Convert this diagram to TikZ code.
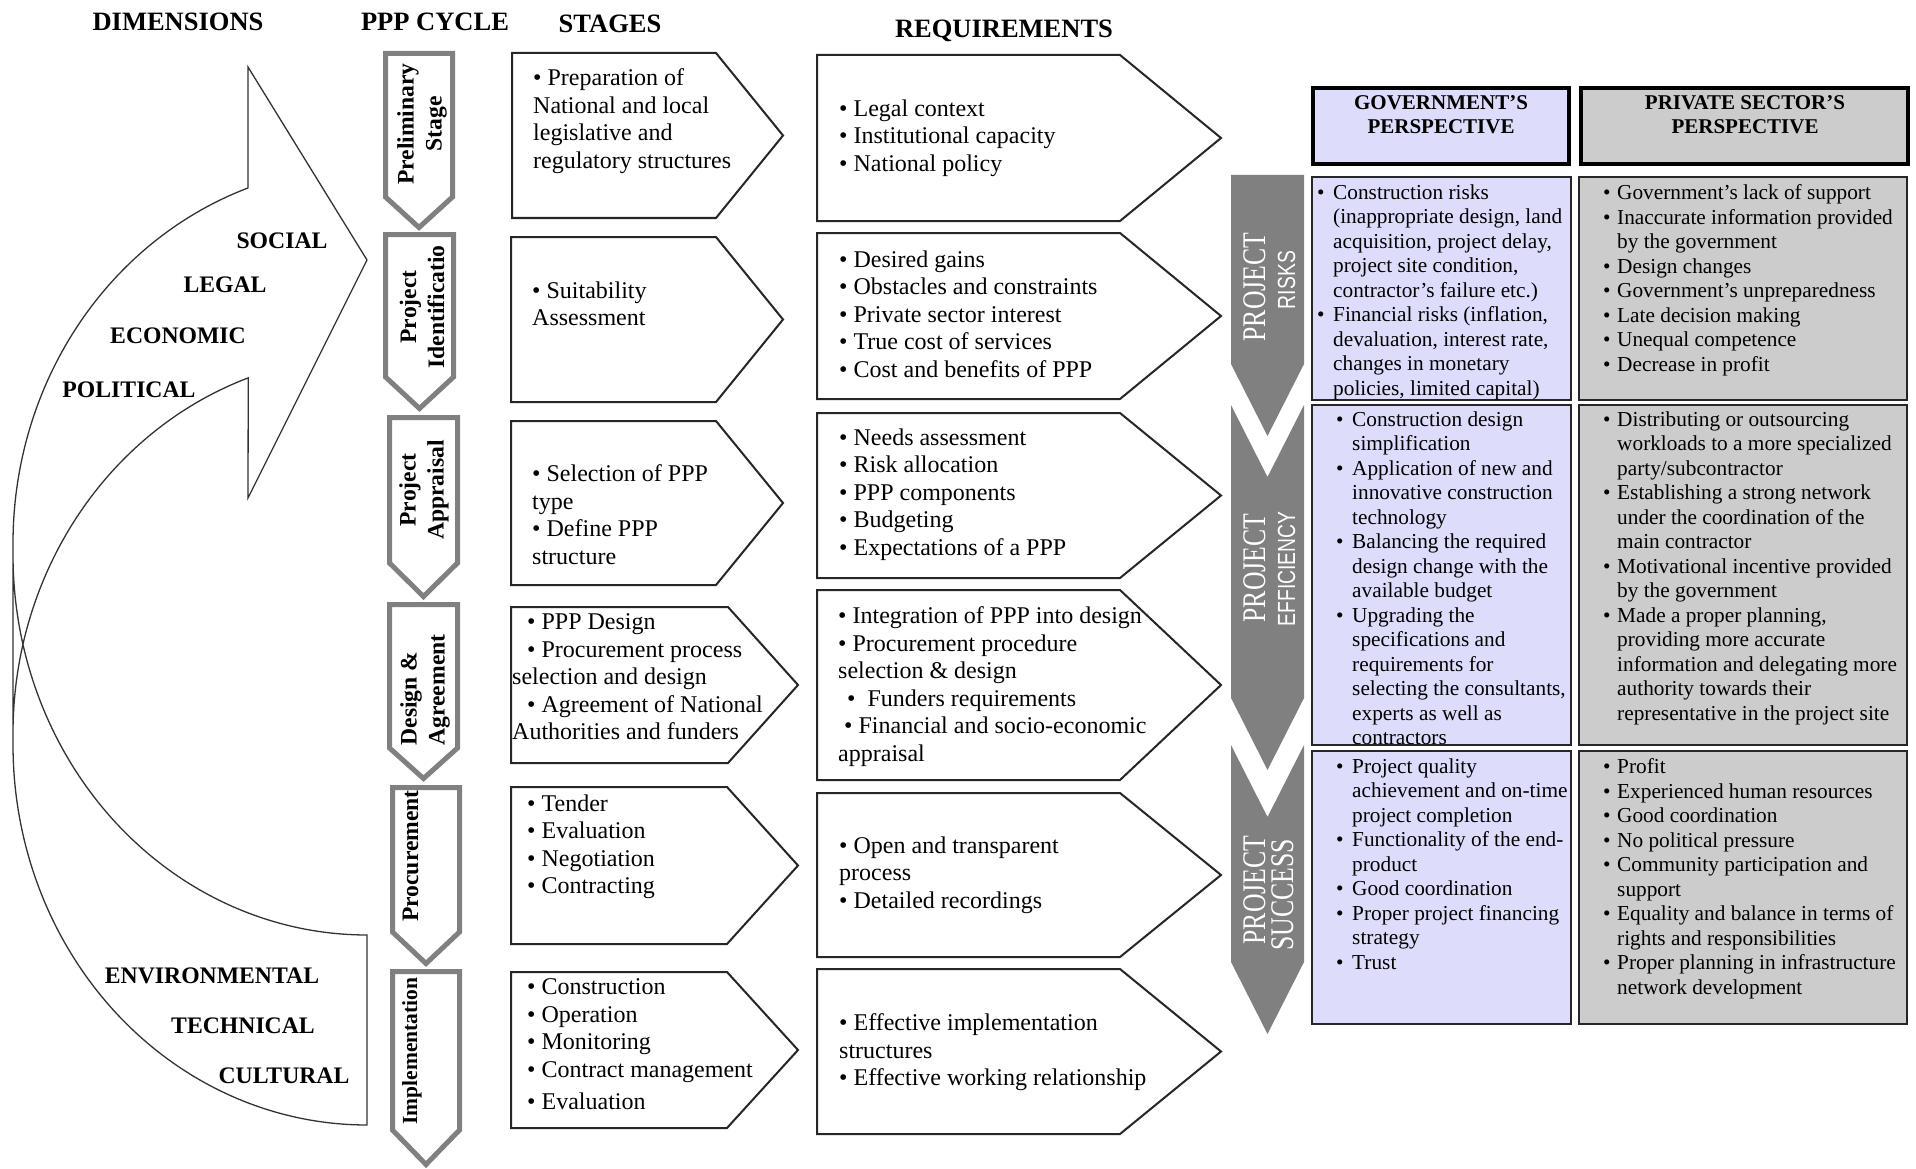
\documentclass[tikz,border=0pt]{standalone}
\usepackage{fontspec}
\setmainfont{Liberation Serif}
\newfontfamily\chevserif{Liberation Serif}[FakeStretch=0.78]
\newfontfamily\chevsans{Liberation Sans}[FakeStretch=0.78]
\definecolor{lav}{RGB}{221,221,251}
\definecolor{pgrey}{RGB}{204,204,204}
\definecolor{cgrey}{RGB}{128,128,128}
\definecolor{chev}{RGB}{128,128,128}
\newcommand{\govb}{\makebox[16pt][l]{•}}
\newcommand{\govc}{\hspace*{16pt}}
\newcommand{\prvb}{\makebox[14pt][l]{•}}
\newcommand{\prvc}{\hspace*{14pt}}
\newcommand{\pentbox}[5]{\draw[boxline] (#1,#2) -- (#3,#2) -- (#4,{(#2+#5)/2}) -- (#3,#5) -- (#1,#5) -- cycle;}
\newcommand{\cycbox}[5]{\draw[cycline] ({#1+2.5},{#2+2.5}) -- ({#3-2.5},{#2+2.5}) -- ({#3-2.5},#4) -- ({(#1+#3)/2},{#5-3.5}) -- ({#1+2.5},#4) -- cycle;}
\tikzset{
 boxline/.style={draw=black!85, line width=2pt, line join=miter, fill=white},
 cycline/.style={draw=cgrey, line width=5pt, line join=miter, fill=white},
 arrowline/.style={draw=black!80, line width=1.3pt, line join=miter},
 hdr/.style={font=\bfseries\fontsize{26.5}{30}\selectfont, inner sep=0, anchor=base},
 dimlab/.style={font=\bfseries\fontsize{23.7}{28}\selectfont, inner sep=0, anchor=base},
 cyc/.style={font=\bfseries\fontsize{23.6}{28}\selectfont, inner sep=0, rotate=90, align=center},
 txt/.style={font=\fontsize{24}{27.5}\selectfont, inner sep=0, anchor=north west, align=left},
 tbl/.style={font=\fontsize{21.3}{24.5}\selectfont, inner sep=0, anchor=north west, align=left},
 thdr/.style={font=\bfseries\fontsize{21}{24}\selectfont, inner sep=0, align=center},
 govrow/.style={draw=black!85, line width=2.2pt, fill=lav},
 privrow/.style={draw=black!85, line width=2.2pt, fill=pgrey},
 hdrbox/.style={draw=black, line width=4.5pt},
 chevfill/.style={fill=chev, draw=none},
 chevA/.style={font=\chevserif\fontsize{33}{36}\selectfont, text=white, rotate=90, inner sep=0, anchor=base},
 chevB/.style={font=\chevsans\fontsize{24.8}{28}\selectfont, text=white, rotate=90, inner sep=0, anchor=base},
}
\begin{document}
\begin{tikzpicture}[x=1pt,y=-1pt]
\useasboundingbox[fill=white] (0,0) rectangle (1916,1169);

% ---- headers
\node[hdr] (hdim) at (178,31) {DIMENSIONS};
\node[hdr] (hcyc) at (435,31) {PPP CYCLE};
\node[hdr] (hsta) at (610,33) {STAGES};
\node[hdr] (hreq) at (1004,38) {REQUIREMENTS};

% ---- curved dimensions arrow
\draw[arrowline]
  plot[domain=180:109.6, samples=70, variable=\t] ({367+354*cos(\t)},{733-377*sin(\t)})
  -- (248,498) -- (367,260) -- (248,67) -- (248,188)
  -- plot[domain=109.6:180, samples=70, variable=\t] ({367+354*cos(\t)},{543-377*sin(\t)})
  -- plot[domain=180:270, samples=90, variable=\t] ({367+354*cos(\t)},{745-380*sin(\t)})
  -- (367,935)
  -- plot[domain=270:180, samples=90, variable=\t] ({367+354*cos(\t)},{555-380*sin(\t)});

\node[dimlab] (dsoc) at (282,248) {SOCIAL};
\node[dimlab] (dleg) at (225,292) {LEGAL};
\node[dimlab] (deco) at (178,343) {ECONOMIC};
\node[dimlab] (dpol) at (129,397) {POLITICAL};
\node[dimlab] (denv) at (212,983) {ENVIRONMENTAL};
\node[dimlab] (dtec) at (243,1033) {TECHNICAL};
\node[dimlab] (dcul) at (284,1083) {CULTURAL};

% ---- PPP cycle chevrons
\cycbox{383}{51}{455}{197}{231}
\cycbox{383}{232}{456}{377}{412}
\cycbox{387}{415}{460}{563}{600}
\cycbox{387}{602}{460}{748}{782}
\cycbox{390}{785}{462}{932}{967}
\cycbox{390}{969}{462}{1130}{1168}
\node[cyc] (c1) at (422,124) {Preliminary\\Stage};
\node[cyc] (c2) at (422,307) {Project\\Identificatio};
\node[cyc] (c3) at (424,490) {Project\\Appraisal};
\node[cyc, align=left] (c4) at (425,690) {Design \&\\Agreement};
\node[cyc, anchor=base] (c5) at (418,856) {Procurement};
\node[cyc, anchor=base, font=\bfseries\fontsize{21.5}{26}\selectfont] (c6) at (417,1051) {Implementation};

% ---- stages
\pentbox{512}{53}{716}{783}{218}
\pentbox{511}{237}{716}{783}{402}
\pentbox{511}{421}{716}{783}{585}
\pentbox{511}{607}{728}{798}{763}
\pentbox{511}{787}{727}{798}{944}
\pentbox{511}{972}{727}{798}{1128}
\node[txt] (st1) at (533,68.6) {• Preparation of\\National and local\\legislative and\\regulatory structures};
\node[txt] (st2) at (532,281.6) {• Suitability\\Assessment};
\node[txt] (st3) at (532,464.6) {• Selection of PPP\\type\\• Define PPP\\structure};
\node[txt] (st4) at (512,613.6) {\hspace*{15pt}• PPP Design\\\hspace*{15pt}• Procurement process\\selection and design\\\hspace*{15pt}• Agreement of National\\Authorities and funders};
\node[txt] (st5) at (527,794.6) {• Tender\\• Evaluation\\• Negotiation\\• Contracting};
\node[txt] (st6) at (527,978.6) {• Construction\\• Operation\\• Monitoring\\• Contract management\\[4.5pt]• Evaluation};

% ---- requirements
\pentbox{817}{55}{1120}{1221}{221}
\pentbox{817}{233}{1120}{1221}{399}
\pentbox{817}{413}{1120}{1221}{578}
\pentbox{817}{590}{1120}{1221}{780}
\pentbox{817}{793}{1120}{1221}{957}
\pentbox{817}{969}{1120}{1221}{1134}
\node[txt] (rq1) at (839,99.6) {• Legal context\\• Institutional capacity\\• National policy};
\node[txt] (rq2) at (839,250.6) {• Desired gains\\• Obstacles and constraints\\• Private sector interest\\• True cost of services\\• Cost and benefits of PPP};
\node[txt] (rq3) at (839,428.6) {• Needs assessment\\• Risk allocation\\• PPP components\\• Budgeting\\• Expectations of a PPP};
\node[txt] (rq4) at (838,606.6) {• Integration of PPP into design\\• Procurement procedure\\selection \& design\\\hspace*{9pt}•~ Funders requirements\\\hspace*{6pt}• Financial and socio-economic\\appraisal};
\node[txt] (rq5) at (839,836.6) {• Open and transparent\\process\\• Detailed recordings};
\node[txt] (rq6) at (839,1013.6) {• Effective implementation\\structures\\• Effective working relationship};

% ---- grey project chevrons
\fill[chevfill] (1231,175) -- (1304,175) -- (1304,364) -- (1267.5,436) -- (1231,364) -- cycle;
\fill[chevfill] (1231,405) -- (1267.5,477) -- (1304,405) -- (1304,698) -- (1267.5,770) -- (1231,698) -- cycle;
\fill[chevfill] (1231,745) -- (1267.5,817) -- (1304,745) -- (1304,962) -- (1267.5,1034) -- (1231,962) -- cycle;
\node[chevA] (pr1) at (1265,287) {PROJECT};
\node[chevB] (pr1b) at (1295,280) {RISKS};
\node[chevA] (pr2) at (1265,568) {PROJECT};
\node[chevB] (pr2b) at (1295,569) {EFFICIENCY};
\node[chevA] (pr3) at (1265,890) {PROJECT};
\node[chevA] (pr3b) at (1293,895) {SUCCESS};

% ---- perspective table
\draw[hdrbox, fill=lav] (1313,88) rectangle (1569,164);
\draw[hdrbox, fill=pgrey] (1581,88) rectangle (1908,164);
\node[thdr] (tg) at (1441,115) {GOVERNMENT’S\\PERSPECTIVE};
\node[thdr] (tp) at (1745,115) {PRIVATE SECTOR’S\\PERSPECTIVE};

\draw[govrow] (1312,177) rectangle (1571,400);
\draw[govrow] (1312,405) rectangle (1571,745);
\draw[govrow] (1312,751) rectangle (1571,1024);
\draw[privrow] (1579,177) rectangle (1907,400);
\draw[privrow] (1579,405) rectangle (1907,745);
\draw[privrow] (1579,751) rectangle (1907,1024);

\node[tbl] (gr) at (1317,184.5) {\govb Construction risks\\\govc (inappropriate design, land\\\govc acquisition, project delay,\\\govc project site condition,\\\govc contractor’s failure etc.)\\\govb Financial risks (inflation,\\\govc devaluation, interest rate,\\\govc changes in monetary\\\govc policies, limited capital)};
\node[tbl] (pr) at (1603,184.5) {\prvb Government’s lack of support\\\prvb Inaccurate information provided\\\prvc by the government\\\prvb Design changes\\\prvb Government’s unpreparedness\\\prvb Late decision making\\\prvb Unequal competence\\\prvb Decrease in profit};
\node[tbl] (ge) at (1336,411.5) {\govb Construction design\\\govc simplification\\\govb Application of new and\\\govc innovative construction\\\govc technology\\\govb Balancing the required\\\govc design change with the\\\govc available budget\\\govb Upgrading the\\\govc specifications and\\\govc requirements for\\\govc selecting the consultants,\\\govc experts as well as\\\govc contractors};
\node[tbl] (pe) at (1603,411.5) {\prvb Distributing or outsourcing\\\prvc workloads to a more specialized\\\prvc party/subcontractor\\\prvb Establishing a strong network\\\prvc under the coordination of the\\\prvc main contractor\\\prvb Motivational incentive provided\\\prvc by the government\\\prvb Made a proper planning,\\\prvc providing more accurate\\\prvc information and delegating more\\\prvc authority towards their\\\prvc representative in the project site};
\node[tbl] (gs) at (1336,758.5) {\govb Project quality\\\govc achievement and on-time\\\govc project completion\\\govb Functionality of the end-\\\govc product\\\govb Good coordination\\\govb Proper project financing\\\govc strategy\\\govb Trust};
\node[tbl] (ps) at (1603,758.5) {\prvb Profit\\\prvb Experienced human resources\\\prvb Good coordination\\\prvb No political pressure\\\prvb Community participation and\\\prvc support\\\prvb Equality and balance in terms of\\\prvc rights and responsibilities\\\prvb Proper planning in infrastructure\\\prvc network development};
\end{tikzpicture}
\end{document}
